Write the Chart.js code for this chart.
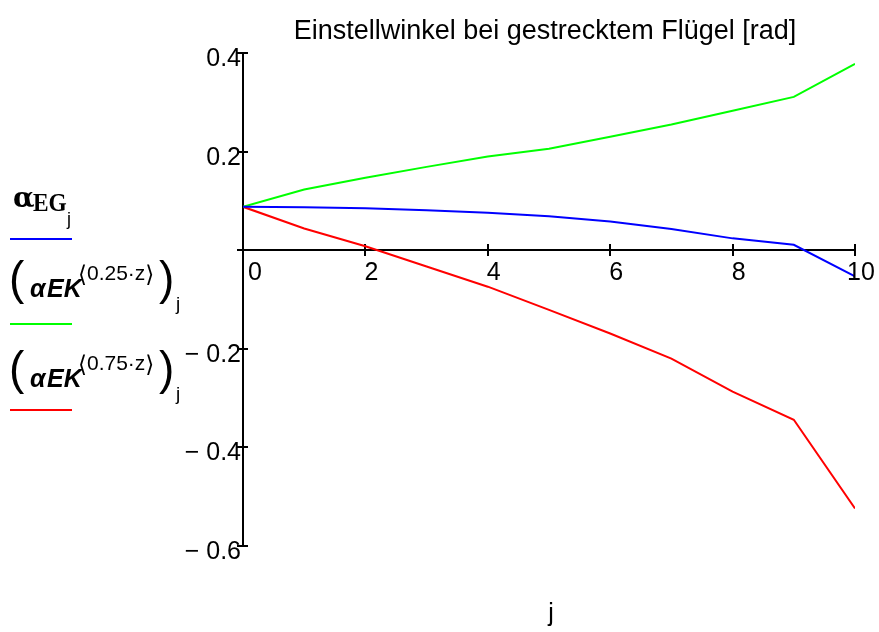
<!DOCTYPE html>
<html>
<head>
<meta charset="utf-8">
<script src="https://cdn.jsdelivr.net/npm/chart.js@4/dist/chart.umd.min.js"></script>
<style>
  html, body { margin: 0; padding: 0; background: #fff; }
  #wrap { width: 879px; height: 632px; }
</style>
</head>
<body>
<div id="wrap"><canvas id="c" width="879" height="632"></canvas></div>
<script>
// Werte
const jValues   = [0, 1, 2, 3, 4, 5, 6, 7, 8, 9, 10];
const alphaEG   = [0.088, 0.087, 0.085, 0.081, 0.076, 0.069, 0.058, 0.043, 0.024, 0.011, -0.053];
const alphaEK25 = [0.088, 0.123, 0.147, 0.169, 0.190, 0.206, 0.230, 0.255, 0.283, 0.311, 0.378];
const alphaEK75 = [0.088, 0.044, 0.008, -0.033, -0.074, -0.121, -0.169, -0.220, -0.287, -0.344, -0.524];

const xTicks = [0, 2, 4, 6, 8, 10];
const yTicks = [0.4, 0.2, 0, -0.2, -0.4, -0.6];
const yTickLabels = ['0.4', '0.2', '', '\u2212 0.2', '\u2212 0.4', '\u2212 0.6'];

const title  = 'Einstellwinkel bei gestrecktem Flügel [rad]';
const xTitle = 'j';

const pts = (ys) => jValues.map((x, i) => ({ x, y: ys[i] }));
const SANS = '"Liberation Sans", Arial, sans-serif';

function text(ctx, str, x, y, font, align) {
  ctx.font = font;
  ctx.textAlign = align || 'left';
  ctx.fillText(str, x, y);
  return ctx.measureText(str).width;
}

// Achsen, Ticks, Beschriftung im Mathcad-Stil
const mathcadAxes = {
  id: 'mathcadAxes',
  beforeDatasetsDraw(chart) {
    const { ctx, scales: { x, y } } = chart;
    const x0 = Math.round(x.getPixelForValue(0));
    const y0 = Math.round(y.getPixelForValue(0));
    ctx.save();
    ctx.strokeStyle = '#000';
    ctx.lineWidth = 2;
    ctx.beginPath();
    ctx.moveTo(x0, Math.round(y.getPixelForValue(0.4)));
    ctx.lineTo(x0, Math.round(y.getPixelForValue(-0.6)));
    ctx.moveTo(x0, y0);
    ctx.lineTo(Math.round(x.getPixelForValue(10)), y0);
    xTicks.forEach(v => {
      if (v === 0) return;
      const px = Math.round(x.getPixelForValue(v));
      ctx.moveTo(px, y0 - 6);
      ctx.lineTo(px, y0 + 6);
    });
    yTicks.forEach(v => {
      const py = Math.round(y.getPixelForValue(v));
      ctx.moveTo(x0 - 6, py);
      ctx.lineTo(x0 + 5, py);
    });
    ctx.stroke();
    ctx.restore();
  },
  afterDraw(chart) {
    const { ctx, scales: { x, y }, chartArea } = chart;
    const x0 = x.getPixelForValue(0);
    const y0 = y.getPixelForValue(0);
    ctx.save();
    ctx.fillStyle = '#000';
    ctx.textBaseline = 'alphabetic';

    // Tick-Beschriftung
    xTicks.forEach(v => {
      const px = x.getPixelForValue(v);
      text(ctx, String(v), px + (v === 0 ? 12 : 6), y0 + 30, '25px ' + SANS, 'center');
    });
    yTicks.forEach((v, i) => {
      if (!yTickLabels[i]) return;
      text(ctx, yTickLabels[i], x0 - 2, y.getPixelForValue(v) + 13, '25px ' + SANS, 'right');
    });

    // Titel
    const cx = (chartArea.left + chartArea.right) / 2;
    text(ctx, title, cx - 4, 39, '27px ' + SANS, 'center');
    text(ctx, xTitle, cx + 2, 621, '25px ' + SANS, 'center');

    // Legende
    text(ctx, '\u03B1', 13, 207, 'bold 28px "DejaVu Serif", serif');
    ctx.save();
    ctx.translate(33, 211);
    ctx.scale(0.9, 1);
    text(ctx, 'EG', 0, 0, 'bold 26px "Liberation Serif", "Times New Roman", serif');
    ctx.restore();
    text(ctx, 'j', 67, 225, '18px ' + SANS);

    const group = (top, sup) => {
      text(ctx, '(', 9, top + 36, '46px ' + SANS);
      text(ctx, ')', 159, top + 36, '46px ' + SANS);
      text(ctx, '\u03B1', 30, top + 39, 'italic bold 25px ' + SANS);
      text(ctx, 'EK', 47, top + 39, 'italic bold 25px ' + SANS);
      text(ctx, '\u27E8', 78, top + 24, '23px "DejaVu Sans", sans-serif');
      const w = text(ctx, sup + '\u00B7z', 87, top + 22, '21px ' + SANS);
      text(ctx, '\u27E9', 87 + w, top + 24, '23px "DejaVu Sans", sans-serif');
      text(ctx, 'j', 176, top + 52, '19px ' + SANS);
    };
    group(258, '0.25');
    group(348, '0.75');

    const legendLine = (py, color) => {
      ctx.strokeStyle = color;
      ctx.lineWidth = 2;
      ctx.beginPath();
      ctx.moveTo(10, py);
      ctx.lineTo(72, py);
      ctx.stroke();
    };
    legendLine(239, '#0000ff');
    legendLine(324, '#00ff00');
    legendLine(410, '#ff0000');
    ctx.restore();
  }
};

new Chart(document.getElementById('c'), {
  type: 'line',
  data: {
    datasets: [
      { label: 'alphaEG', data: pts(alphaEG), borderColor: '#0000ff' },
      { label: 'alphaEK 0.25z', data: pts(alphaEK25), borderColor: '#00ff00' },
      { label: 'alphaEK 0.75z', data: pts(alphaEK75), borderColor: '#ff0000' }
    ]
  },
  options: {
    responsive: false,
    animation: false,
    layout: { padding: { left: 243, right: 24, top: 53, bottom: 86 } },
    elements: {
      line: { borderWidth: 2, tension: 0, fill: false },
      point: { radius: 0, hoverRadius: 0 }
    },
    scales: {
      x: { type: 'linear', min: 0, max: 10, display: false },
      y: { type: 'linear', min: -0.6, max: 0.4, display: false }
    },
    plugins: { legend: { display: false }, tooltip: { enabled: false }, title: { display: false } }
  },
  plugins: [mathcadAxes]
});
</script>
</body>
</html>
